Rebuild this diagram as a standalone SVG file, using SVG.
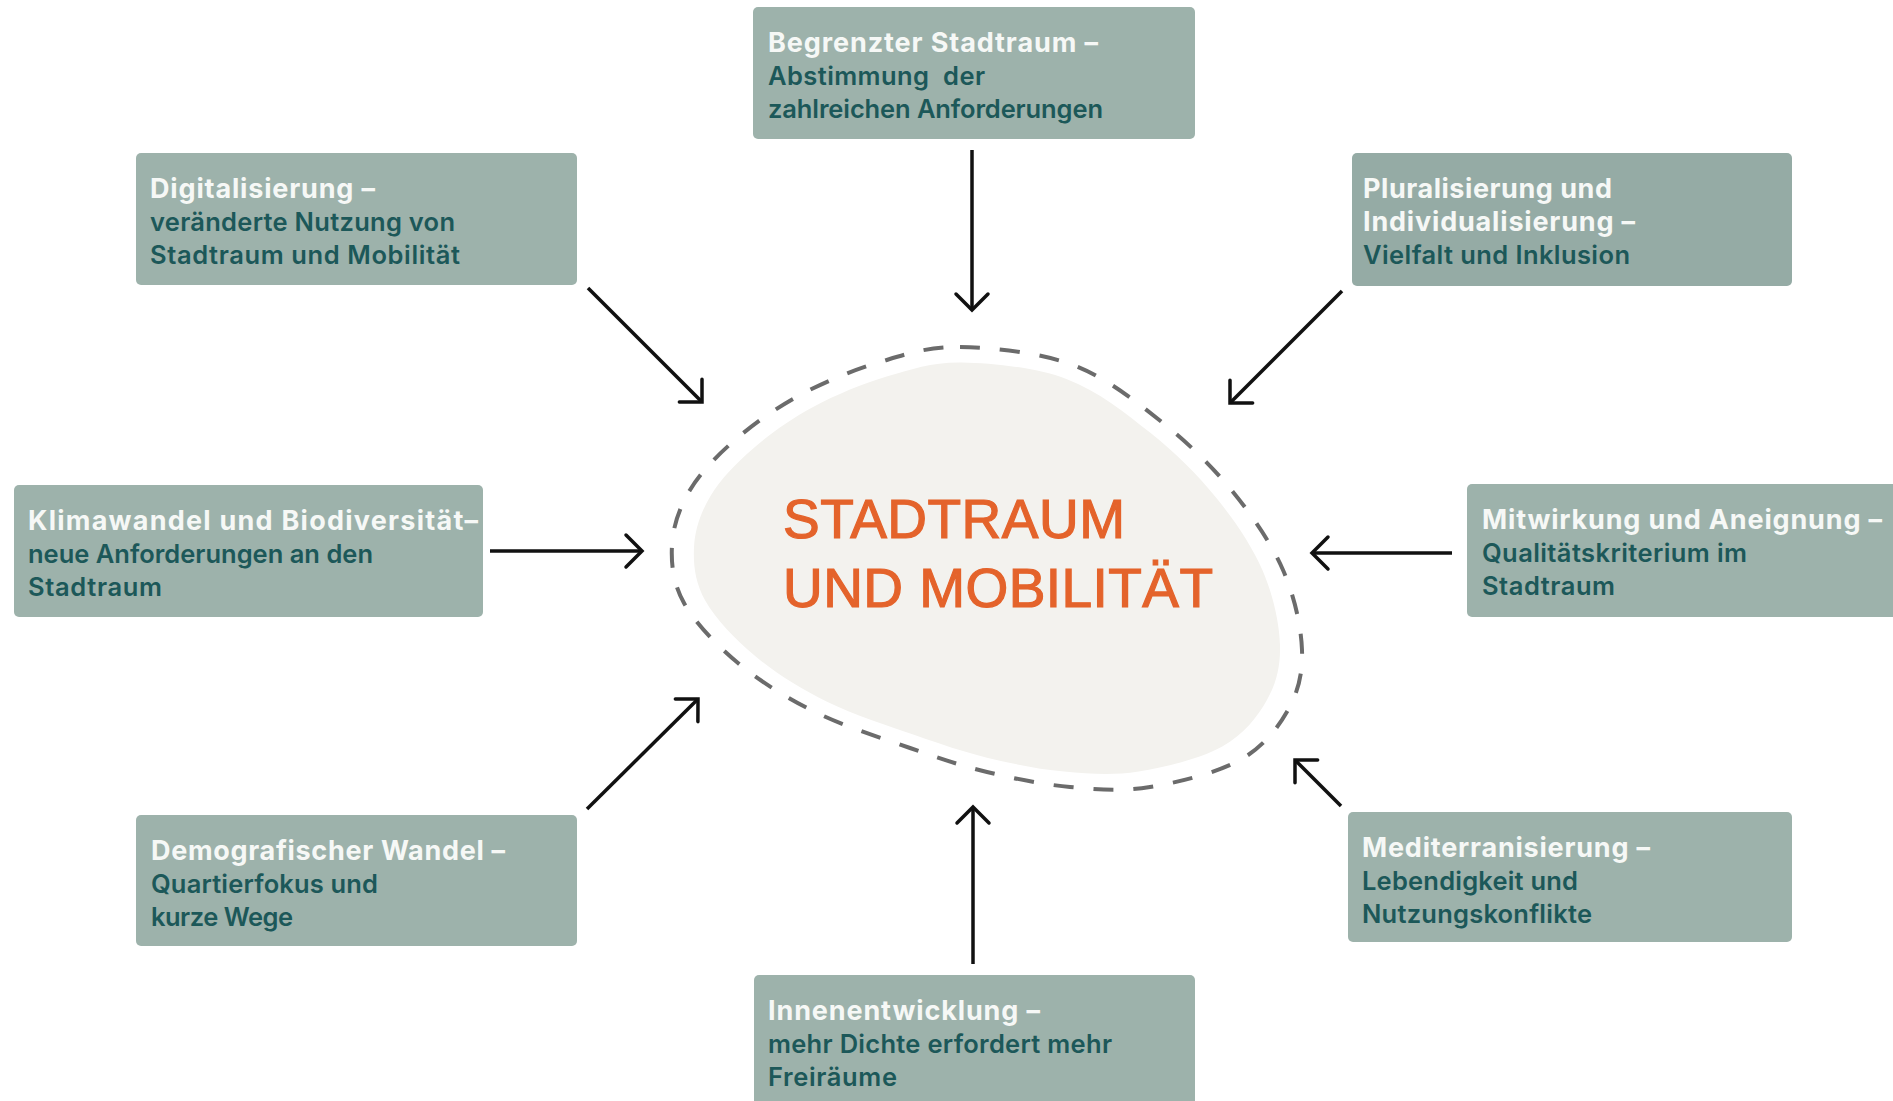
<svg xmlns="http://www.w3.org/2000/svg" width="1893" height="1101" viewBox="0 0 1893 1101">
<style>
.box{fill:#9db2ab;}
.box2{fill:#95aba5;}
.t{font-family:Inter,"Noto Sans","Liberation Sans",sans-serif;font-size:25.5px;font-weight:600;}
.h{fill:#f6f8f6;font-weight:700;font-size:27px;}
.s{fill:#1c5859;}
.c{font-family:"Liberation Sans",Arial,sans-serif;font-size:55px;fill:#e4632b;stroke:#e4632b;stroke-width:1.2;}
.a{fill:none;stroke:#111;stroke-width:3.5;marker-end:url(#ah);}
</style>
<defs>
<marker id="ah" markerWidth="40" markerHeight="40" refX="20" refY="20" orient="auto" markerUnits="userSpaceOnUse" viewBox="0 0 40 40">
<path d="M4,4 L20,20 L4,36" fill="none" stroke="#111" stroke-width="3.5" stroke-linecap="round"/>
</marker>
<path id="blob" d="M960,347 C992.2,347.5 1039.2,352.3 1073,365 C1106.8,377.7 1136.3,401.8 1163,423 C1189.7,444.2 1213,467.5 1233,492 C1253,516.5 1271.5,543.7 1283,570 C1294.5,596.3 1301.2,626.7 1302,650 C1302.8,673.3 1298.3,691.7 1288,710 C1277.7,728.3 1263,747.2 1240,760 C1217,772.8 1178.3,782.5 1150,787 C1121.7,791.5 1097.2,789.5 1070,787 C1042.8,784.5 1013.7,778.5 987,772 C960.3,765.5 938.7,758 910,748 C881.3,738 843.7,726.2 815,712 C786.3,697.8 759.8,681.2 738,663 C716.2,644.8 695,622.7 684,603 C673,583.3 671,563.8 672,545 C673,526.2 679.5,507.5 690,490 C700.5,472.5 716.7,455.8 735,440 C753.3,424.2 775.8,408 800,395 C824.2,382 853.3,370 880,362 C906.7,354 927.8,346.5 960,347 Z"/>
</defs>
<rect width="1893" height="1101" fill="#ffffff"/>

<g id="center">
<use href="#blob" fill="#f3f2ee" transform="translate(987 567) scale(0.93) translate(-987 -567)"/>
<use href="#blob" fill="none" stroke="#6b6b6b" stroke-width="4" stroke-dasharray="20 20"/>
<text class="c" x="783" y="538" textLength="342" lengthAdjust="spacing">STADTRAUM</text>
<text class="c" x="783" y="607" textLength="430" lengthAdjust="spacing">UND MOBILITÄT</text>
</g>

<g id="connectors">
<line class="a" x1="972" y1="150" x2="972" y2="310"/>
<line class="a" x1="588" y1="288" x2="702" y2="402"/>
<line class="a" x1="1342" y1="291" x2="1230" y2="403"/>
<line class="a" x1="490" y1="551" x2="642" y2="551"/>
<line class="a" x1="1452" y1="553" x2="1312" y2="553"/>
<line class="a" x1="587" y1="809" x2="698" y2="699"/>
<line class="a" x1="973" y1="964" x2="973" y2="807"/>
<line class="a" x1="1341" y1="806" x2="1295" y2="760"/>
</g>

<g id="n-begrenzt">
<rect class="box" x="753" y="7" width="442" height="132" rx="5"/>
<text class="t h" x="768" y="52" textLength="330" lengthAdjust="spacing">Begrenzter Stadtraum –</text>
<text class="t s" x="768" y="85" textLength="217" lengthAdjust="spacing" xml:space="preserve">Abstimmung  der</text>
<text class="t s" x="768" y="118" textLength="335" lengthAdjust="spacing">zahlreichen Anforderungen</text>
</g>

<g id="n-digital">
<rect class="box" x="136" y="153" width="441" height="132" rx="5"/>
<text class="t h" x="150" y="198" textLength="225" lengthAdjust="spacing">Digitalisierung –</text>
<text class="t s" x="150" y="231" textLength="305" lengthAdjust="spacing">veränderte Nutzung von</text>
<text class="t s" x="150" y="264" textLength="310" lengthAdjust="spacing">Stadtraum und Mobilität</text>
</g>

<g id="n-plural">
<rect class="box2" x="1352" y="153" width="440" height="133" rx="5"/>
<text class="t h" x="1363" y="198" textLength="249" lengthAdjust="spacing">Pluralisierung und</text>
<text class="t h" x="1363" y="231" textLength="272" lengthAdjust="spacing">Individualisierung –</text>
<text class="t s" x="1363" y="264" textLength="267" lengthAdjust="spacing">Vielfalt und Inklusion</text>
</g>

<g id="n-klima">
<rect class="box" x="14" y="485" width="469" height="132" rx="5"/>
<text class="t h" x="28" y="530" textLength="450" lengthAdjust="spacing">Klimawandel und Biodiversität–</text>
<text class="t s" x="28" y="563" textLength="345" lengthAdjust="spacing">neue Anforderungen an den</text>
<text class="t s" x="28" y="596" textLength="134" lengthAdjust="spacing">Stadtraum</text>
</g>

<g id="n-mitwirkung">
<rect class="box" x="1467" y="484" width="440" height="133" rx="5"/>
<text class="t h" x="1482" y="529" textLength="400" lengthAdjust="spacing">Mitwirkung und Aneignung –</text>
<text class="t s" x="1482" y="562" textLength="265" lengthAdjust="spacing">Qualitätskriterium im</text>
<text class="t s" x="1482" y="595" textLength="133" lengthAdjust="spacing">Stadtraum</text>
</g>

<g id="n-demografie">
<rect class="box" x="136" y="815" width="441" height="131" rx="5"/>
<text class="t h" x="151" y="860" textLength="354" lengthAdjust="spacing">Demografischer Wandel –</text>
<text class="t s" x="151" y="893" textLength="227" lengthAdjust="spacing">Quartierfokus und</text>
<text class="t s" x="151" y="926" textLength="142" lengthAdjust="spacing">kurze Wege</text>
</g>

<g id="n-mediterran">
<rect class="box" x="1348" y="812" width="444" height="130" rx="5"/>
<text class="t h" x="1362" y="857" textLength="288" lengthAdjust="spacing">Mediterranisierung –</text>
<text class="t s" x="1362" y="890" textLength="216" lengthAdjust="spacing">Lebendigkeit und</text>
<text class="t s" x="1362" y="923" textLength="230" lengthAdjust="spacing">Nutzungskonflikte</text>
</g>

<g id="n-innen">
<rect class="box" x="754" y="975" width="441" height="140" rx="5"/>
<text class="t h" x="768" y="1020" textLength="272" lengthAdjust="spacing">Innenentwicklung –</text>
<text class="t s" x="768" y="1053" textLength="344" lengthAdjust="spacing">mehr Dichte erfordert mehr</text>
<text class="t s" x="768" y="1086" textLength="129" lengthAdjust="spacing">Freiräume</text>
</g>
</svg>
